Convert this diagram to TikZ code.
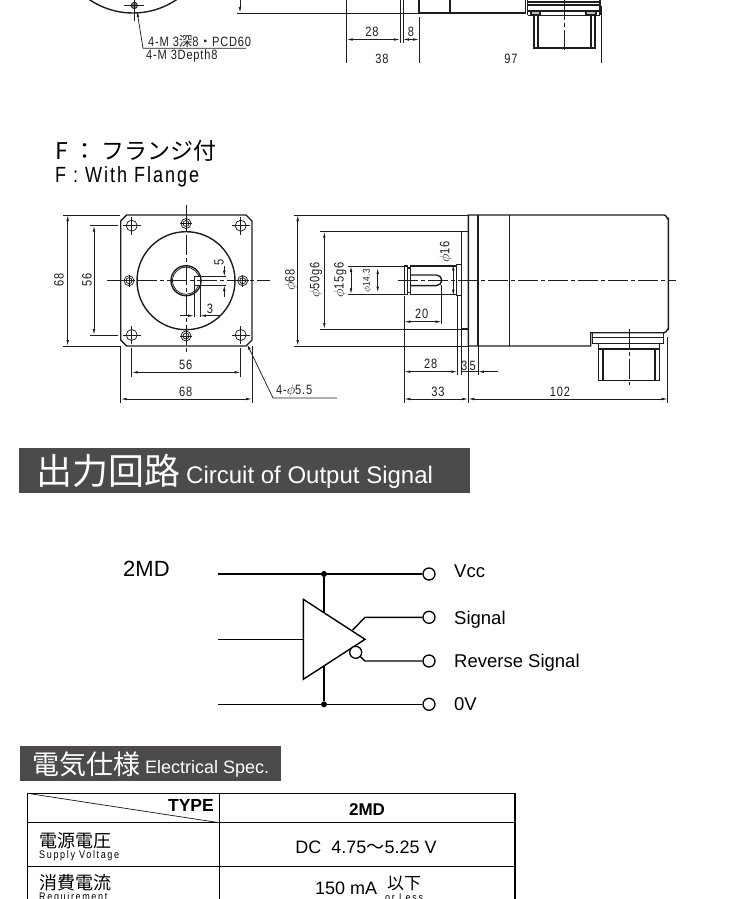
\documentclass[tikz,border=0pt]{standalone}
\usepackage{fontspec}
\usetikzlibrary{arrows.meta, calc, positioning}
\setmainfont{Liberation Sans}
\newfontfamily\cjk{Noto Sans CJK JP}
\newfontfamily\drawfont[FakeStretch=0.82,LetterSpace=6]{Liberation Sans}
\newfontfamily\titlefont[FakeStretch=0.82,LetterSpace=9]{Liberation Sans}
\newfontfamily\notefont[FakeStretch=0.82,LetterSpace=15]{Liberation Sans}
\definecolor{barcolor}{HTML}{4D4A4B}
\definecolor{inkcolor}{HTML}{1E1E1E}
\tikzset{
  >={Latex[length=6pt,width=2.6pt]},
  thinline/.style={line width=.75pt,draw=inkcolor},
  thickline/.style={line width=1.4pt,draw=inkcolor},
  heavyline/.style={line width=1.9pt,draw=inkcolor},
  axisline/.style={line width=.75pt,draw=inkcolor,dash pattern=on 20pt off 3pt on 4pt off 3pt},
  dimtext/.style={inner sep=0pt,text=inkcolor,font=\drawfont\fontsize{13.5}{13.5}\selectfont},
  wire/.style={line width=1.4pt,draw=black},
  terminal/.style={circle,draw=black,line width=1.3pt,fill=white,minimum size=12pt,inner sep=0pt},
  junction/.style={circle,fill=black,minimum size=6pt,inner sep=0pt},
  circuittext/.style={inner sep=0pt,anchor=west,font=\fontsize{18.5}{18.5}\selectfont},
  bartext/.style={inner sep=0pt,anchor=west,text=white},
  celltext/.style={inner sep=0pt,font=\fontsize{18}{18}\selectfont},
  notetext/.style={inner sep=0pt,anchor=west,font=\notefont\fontsize{11}{11}\selectfont},
}
\begin{document}
\begin{tikzpicture}[x=1pt,y=-1pt]
\useasboundingbox (0,0) rectangle (750,899);
\clip (0,0) rectangle (750,899);
% top drawing, cut by the page
\draw[thickline] (133,-64.6) circle[radius=77.6];
\draw[thinline,fill=gray] (134.3,5.5) circle[radius=3.2];
\draw[thinline] (124,5.5) -- (144,5.5) (134.3,0) -- (134.3,21);
\draw[thinline,->] (246,48.3) -- (143,48.3) -- (137,11);
\node[dimtext,anchor=west] at (148,41) (topnoteA) {4-M 3{\cjk 深}8{\cjk ・}PCD60};
\node[dimtext,anchor=west] at (146,56) (topnoteB) {4-M 3Depth8};
\draw[thinline] (237,13) -- (419,13);
\draw[thinline,->] (240,0) -- (240,13);
\draw[thinline] (346.7,0) -- (346.7,63.5) (400,0) -- (400,43) (403,0) -- (403,43);
\draw[thinline] (419,17) -- (419,63.5) (601.7,6) -- (601.7,63.5);
\draw[thinline,<->] (346.7,39.5) -- (400,39.5);
\draw[thinline,<->] (403,39.5) -- (419,39.5);
\node[dimtext] at (372,32) (topA) {28};
\node[dimtext] at (411,32) (topB) {8};
\node[dimtext] at (382,59) (topC) {38};
\node[dimtext] at (511,59) (topD) {97};
\draw[thickline] (419,0) -- (419,13) -- (525.5,13) -- (525.5,0) (450,0) -- (450,13);
\draw[thickline] (527.5,0) -- (527.5,11) -- (600,11) -- (600,0) (527.5,2) -- (600,2) (527.5,5) -- (600,5);
\draw[thickline] (527.5,15.5) -- (600,15.5) (527.5,11) -- (527.5,15.5) (600,11) -- (600,15.5);
\draw[thickline] (534,15.5) -- (534,48) -- (595,48) -- (595,15.5) (538,15.5) -- (538,48) (591,15.5) -- (591,48);
\draw[thickline,fill=lightgray] (531,11) rectangle (540,14.5) (586,11) rectangle (596,14.5);
\draw[axisline] (564.5,0) -- (564.5,52);
% F title
\node[inner sep=0pt,anchor=west,font=\cjk\fontsize{23}{23}\selectfont] at (55,151) (flangeJa) {F ： フランジ付};
\node[inner sep=0pt,anchor=west,font=\titlefont\fontsize{22}{22}\selectfont] at (55,177) (flangeEn) {F : With Flange};
% front view
\draw[thickline] (126.7,215) -- (246,215) -- (252,221) -- (252,340) -- (246,346) -- (126.7,346) -- (120.7,340) -- (120.7,221) -- cycle;
\draw[thickline] (186,280.7) circle[radius=49];
\draw[thickline] (186,280.7) circle[radius=15];
\draw[thinline] (186,280.7) circle[radius=13.5];
\draw[thinline,fill=white] (194,276.7) rectangle (200,285);
\foreach \x/\y in {131.7/225.7,240.7/225.7,131.7/335,240.7/335}{
  \draw[thinline] (\x,\y) circle[radius=5.5];
  \draw[thinline] (\x-9,\y) -- (\x+9,\y) (\x,\y-9) -- (\x,\y+9);
}
\foreach \x/\y in {186/223.5,186/336,129/280.7,242.7/280.7}{
  \draw[thinline] (\x,\y) circle[radius=5];
  \draw[thinline] (\x,\y) circle[radius=3];
  \draw[thinline] (\x-6,\y) -- (\x+6,\y) (\x,\y-6) -- (\x,\y+6);
}
\draw[axisline] (106.7,280.7) -- (270,280.7);
\draw[axisline] (186,205) -- (186,351.7);
\draw[thinline] (63.3,215) -- (120,215) (63.3,346) -- (120,346);
\draw[thinline,<->] (67.7,215) -- (67.7,346);
\node[dimtext,rotate=90] at (59,280) (frontA) {68};
\draw[thinline] (90,225.7) -- (118,225.7) (90,335) -- (118,335);
\draw[thinline,<->] (94,225.7) -- (94,335);
\node[dimtext,rotate=90] at (87,280) (frontB) {56};
\draw[thinline] (200,276.7) -- (226,276.7) (200,285) -- (226,285);
\draw[thinline,->] (224.3,266) -- (224.3,276.7);
\draw[thinline,->] (224.3,296.7) -- (224.3,285);
\node[dimtext,rotate=90] at (219,262) (frontC) {5};
\draw[thinline] (194,285) -- (194,317) (200,285) -- (200,317);
\draw[thinline,->] (180,315.7) -- (194,315.7);
\draw[thinline,->] (220,315.7) -- (200,315.7);
\node[dimtext] at (210,309) (frontD) {3};
\draw[thinline] (131.7,348) -- (131.7,376.7) (240.7,348) -- (240.7,376.7);
\draw[thinline,<->] (131.7,372.3) -- (240.7,372.3);
\node[dimtext] at (185.6,365) (frontE) {56};
\draw[thinline] (120.7,346) -- (120.7,403) (252,346) -- (252,403);
\draw[thinline,<->] (120.7,399) -- (252,399);
\node[dimtext] at (185.6,392) (frontF) {68};
\draw[thinline,->] (337,398) -- (273,398) -- (247,344);
\node[dimtext,anchor=west] at (276,391) (frontG) {4-$\phi$5.5};
% side view
\draw[thickline] (468.3,215) -- (664.3,215) to[out=0,in=-90] (668.3,219) -- (668.3,329) to[out=90,in=0] (664.3,332.7) -- (590.7,332.7) -- (590.7,346) -- (468.3,346) -- cycle;
\draw[heavyline] (478,215) -- (478,346);
\draw[thickline] (509.3,215) -- (509.3,346);
\draw[thickline] (461.7,231.7) rectangle (468.3,329);
\draw[thickline] (592.3,332.7) rectangle (663.3,343.3) (592.3,337.3) -- (663.3,337.3);
\draw[thickline] (598.7,343.3) rectangle (659.3,380.7) (598.7,349) -- (659.3,349) (603,349) -- (603,380.7) (655,349) -- (655,380.7);
\draw[axisline] (629.3,329) -- (629.3,385);
\draw[thickline] (456.7,264.3) rectangle (461.7,295.7);
\draw[thickline] (404.3,266) rectangle (407.3,294.3);
\draw[thickline] (407.3,268) rectangle (410.7,292.5);
\draw[thickline] (410.7,266) rectangle (456.7,294.3);
\draw[thickline] (410.7,275) -- (436.5,275) arc[start angle=-90,end angle=90,radius=5.3] -- (410.7,285.6);
\draw[axisline] (398,280.7) -- (676,280.7);
\draw[thinline] (294,215) -- (468,215) (294,346) -- (468,346);
\draw[thinline,<->] (297.7,215) -- (297.7,346);
\node[dimtext,rotate=90] at (291,280) (sideA) {$\phi$68};
\draw[thinline] (320,231.7) -- (462,231.7) (320,329) -- (462,329);
\draw[thinline,<->] (324.3,231.7) -- (324.3,329);
\node[dimtext,rotate=90] at (315.7,280) (sideB) {$\phi$50g6};
\draw[thinline] (347.7,266) -- (404,266) (347.7,294.3) -- (404,294.3);
\draw[thinline,<->] (351,266) -- (351,294.3);
\node[dimtext,rotate=90] at (340,280) (sideC) {$\phi$15g6};
\draw[thinline,<->] (377.7,268) -- (377.7,292.5);
\node[dimtext,rotate=90,font=\drawfont\fontsize{10}{10}\selectfont] at (367.3,281) (sideD) {$\phi$14.3};
\draw[thinline,<->] (453.3,264.3) -- (453.3,295.7);
\node[dimtext,rotate=90] at (445.7,251.7) (sideE) {$\phi$16};
\draw[thinline] (441.7,285) -- (441.7,324);
\draw[thinline,<->] (404.3,321.7) -- (441.7,321.7);
\node[dimtext] at (421.7,314) (sideF) {20};
\draw[thinline] (404.3,296) -- (404.3,403) (457.3,296) -- (457.3,375);
\draw[thinline,<->] (404.3,371.7) -- (457.3,371.7);
\node[dimtext] at (430.7,364) (sideG) {28};
\draw[thinline,<->] (404.3,399) -- (468.3,399);
\node[dimtext] at (438,392) (sideH) {33};
\draw[thinline] (468.3,346) -- (468.3,403) (461.7,329) -- (461.7,375) (478,346) -- (478,375);
\draw[thinline] (461.7,371.7) -- (478,371.7);
\draw[thinline,->] (497.7,371.7) -- (478,371.7);
\node[dimtext] at (464.3,366) (sideI) {3};
\node[dimtext] at (472.7,366) (sideJ) {5};
\draw[thinline] (667.7,337) -- (667.7,403);
\draw[thinline,<->] (468.3,399) -- (667.7,399);
\node[dimtext] at (560,392) (sideK) {102};
% circuit header
\fill[barcolor] (19,448) rectangle (470,493);
\node[bartext,font=\cjk\fontsize{36}{36}\selectfont] at (36,471) (circuitJa) {出力回路};
\node[bartext,font=\fontsize{24}{24}\selectfont] at (186,477) (circuitEn) {Circuit of Output Signal};
% circuit
\node[inner sep=0pt,anchor=west,font=\fontsize{22}{22}\selectfont] at (123,569) (partname) {2MD};
\coordinate (vccin) at (218.3,574);
\coordinate (sigin) at (218.3,639.3);
\coordinate (gndin) at (218.3,704.3);
\coordinate (triA) at (303.3,599.3);
\coordinate (triB) at (303.3,679.3);
\coordinate (triC) at (365,639.3);
\coordinate (triTop) at (324,612.7);
\coordinate (triBot) at (324,666);
\coordinate (sigout) at (352.7,630);
\coordinate (sigbend) at (365,617.3);
\coordinate (revbend) at (365,661);
\node[junction] at (324,574) (vccdot) {};
\node[junction] at (324,704.3) (gnddot) {};
\node[terminal] at (429,574) (vccend) {};
\node[terminal] at (429,617.3) (sigend) {};
\node[terminal] at (429,661) (revend) {};
\node[terminal] at (429,704.3) (gndend) {};
\draw[wire] (vccin) -- (vccend);
\draw[wire] (gndin) -- (gndend);
\draw[wire] (sigin) -- (triA |- sigin);
\draw[wire] (vccdot) -- (triTop);
\draw[wire] (gnddot) -- (triBot);
\draw[wire] (triA) -- (triB) -- (triC) -- cycle;
\draw[wire] (sigout) -- (sigbend) -- (sigend);
\node[terminal] at (355.7,652.3) (bubble) {};
\draw[wire] (bubble) -- (revbend) -- (revend);
\node[circuittext] at (454,571) (vcclabel) {Vcc};
\node[circuittext] at (454,620) (siglabel) {Signal};
\node[circuittext] at (454,663) (revlabel) {Reverse Signal};
\node[circuittext] at (454,704) (gndlabel) {0V};
% spec header
\fill[barcolor] (20,746) rectangle (281,780.7);
\node[bartext,font=\cjk\fontsize{27}{27}\selectfont] at (32,764) (specJa) {電気仕様};
\node[bartext,font=\fontsize{18}{18}\selectfont] at (145,769) (specEn) {Electrical Spec.};
% table
\draw[line width=1.1pt] (27.3,793.3) rectangle (515,920);
\draw[line width=.9pt] (219.3,793.3) -- (219.3,920) (27.3,822.7) -- (515,822.7) (27.3,866.7) -- (515,866.7);
\draw[thinline] (27.3,793.3) -- (219.3,822.7);
\node[celltext,anchor=east,font=\bfseries\fontsize{17.5}{17.5}\selectfont] at (214,805) (typelabel) {TYPE};
\node[celltext,font=\bfseries\fontsize{17}{17}\selectfont] at (367,809.5) (typename) {2MD};
\node[inner sep=0pt,anchor=west,font=\cjk\fontsize{18}{18}\selectfont] at (39,841) (voltJa) {電源電圧};
\node[notetext] at (39,856) (voltEn) {Supply Voltage};
\node[celltext] at (366,847) (voltval) {DC\ \ 4.75{\cjk ～}5.25 V};
\node[inner sep=0pt,anchor=west,font=\cjk\fontsize{18}{18}\selectfont] at (39,883) (currJa) {消費電流};
\node[notetext] at (39,898) (currEn) {Requirement};
\node[celltext,anchor=west] at (315,888) (currval) {150 mA};
\node[inner sep=0pt,anchor=west,font=\cjk\fontsize{17}{17}\selectfont] at (387,883) (currmax) {以下};
\node[notetext] at (385,898) (currless) {or Less};
\end{tikzpicture}
\end{document}
